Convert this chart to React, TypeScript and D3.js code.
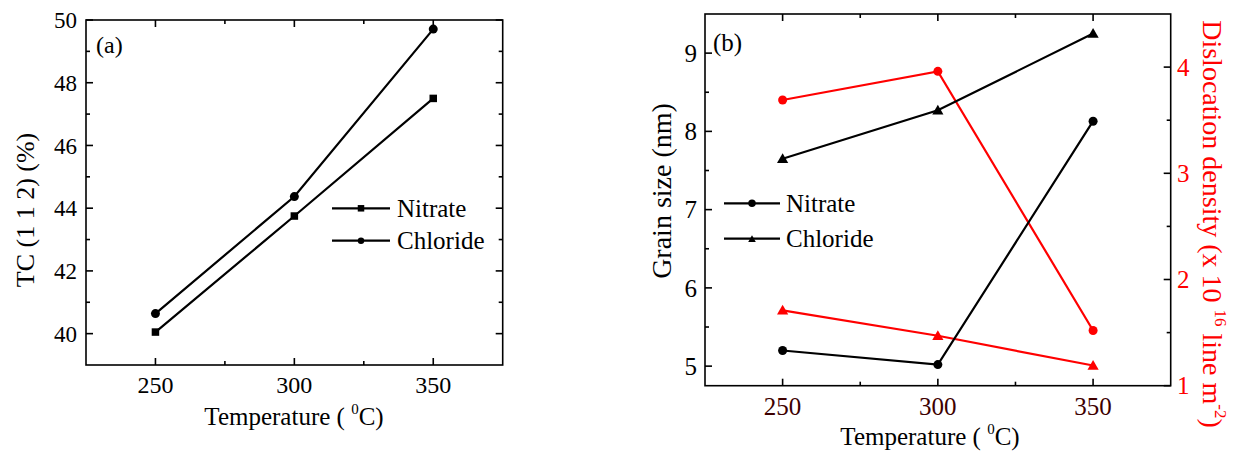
import React from 'react';
import * as d3 from 'd3';

const temps = [250, 300, 350];
const tcNitrate = [40.05, 43.75, 47.5];
const tcChloride = [40.64, 44.37, 49.71];
const grainNitrate = [5.2, 5.02, 8.13];
const grainChloride = [7.65, 8.27, 9.25];
const dislNitrate = [3.69, 3.96, 1.52];
const dislChloride = [1.71, 1.47, 1.19];
const xTicks = [250, 300, 350];
const xMinor = [275, 325];
const tcTicks = [40, 42, 44, 46, 48, 50];
const tcMinor = [41, 43, 45, 47, 49];
const grainTicks = [5, 6, 7, 8, 9];
const grainMinor = [5.5, 6.5, 7.5, 8.5];
const dislTicks = [1, 2, 3, 4];
const dislMinor = [1.5, 2.5, 3.5];
const seriesNames = ['Nitrate', 'Chloride'];

const FONT = "'Liberation Serif', 'DejaVu Serif', serif";
const RED = '#ff0000';

type MarkerKind = 'square' | 'circle' | 'triangle';

function Marker({ kind, x, y, size, color }: { kind: MarkerKind; x: number; y: number; size: number; color: string }) {
  if (kind === 'square') return <rect x={x - size / 2} y={y - size / 2} width={size} height={size} fill={color} />;
  if (kind === 'circle') return <circle cx={x} cy={y} r={size / 2} fill={color} />;
  const p = d3.symbol(d3.symbolTriangle, size * size * 0.45)();
  return <path d={p || ''} transform={`translate(${x},${y + 1})`} fill={color} />;
}

function Series({ xs, ys, x, y, kind, color, size }: any) {
  const line = d3.line<number>().x((_, i) => x(xs[i])).y((v) => y(v));
  return (
    <g>
      <path d={line(ys) || ''} fill="none" stroke={color} strokeWidth={2.2} />
      {ys.map((v: number, i: number) => (
        <Marker key={i} kind={kind} x={x(xs[i])} y={y(v)} size={size} color={color} />
      ))}
    </g>
  );
}

function Frame({ x, y, yMajor, yMinor, yRight, yRightMajor, yRightMinor }: any) {
  const [x0, x1] = x.range();
  const [y0, y1] = y.range();
  const M = 7, m = 4;
  const ticks: any[] = [];
  xTicks.forEach((t, i) => {
    ticks.push(<line key={'xb' + i} x1={x(t)} x2={x(t)} y1={y0} y2={y0 - M} />);
    ticks.push(<line key={'xt' + i} x1={x(t)} x2={x(t)} y1={y1} y2={y1 + M} />);
  });
  xMinor.forEach((t, i) => {
    ticks.push(<line key={'xbm' + i} x1={x(t)} x2={x(t)} y1={y0} y2={y0 - m} />);
    ticks.push(<line key={'xtm' + i} x1={x(t)} x2={x(t)} y1={y1} y2={y1 + m} />);
  });
  yMajor.forEach((t: number, i: number) => {
    ticks.push(<line key={'yl' + i} x1={x0} x2={x0 + M} y1={y(t)} y2={y(t)} />);
    if (!yRight) ticks.push(<line key={'yr' + i} x1={x1} x2={x1 - M} y1={y(t)} y2={y(t)} />);
  });
  yMinor.forEach((t: number, i: number) => {
    ticks.push(<line key={'ylm' + i} x1={x0} x2={x0 + m} y1={y(t)} y2={y(t)} />);
    if (!yRight) ticks.push(<line key={'yrm' + i} x1={x1} x2={x1 - m} y1={y(t)} y2={y(t)} />);
  });
  if (yRight) {
    yRightMajor.forEach((t: number, i: number) => {
      ticks.push(<line key={'rr' + i} x1={x1} x2={x1 - M} y1={yRight(t)} y2={yRight(t)} />);
    });
    yRightMinor.forEach((t: number, i: number) => {
      ticks.push(<line key={'rrm' + i} x1={x1} x2={x1 - m} y1={yRight(t)} y2={yRight(t)} />);
    });
  }
  return (
    <g stroke="#000" strokeWidth={1.6} fill="none">
      <rect x={x0} y={y1} width={x1 - x0} height={y0 - y1} />
      {ticks}
    </g>
  );
}

function Legend({ x0, x1, y0, dy, textX, kinds, size, fontSize }: any) {
  return (
    <g>
      {seriesNames.map((n, i) => (
        <g key={n}>
          <line x1={x0} x2={x1} y1={y0 + i * dy} y2={y0 + i * dy} stroke="#000" strokeWidth={2.2} />
          <Marker kind={kinds[i]} x={(x0 + x1) / 2} y={y0 + i * dy} size={size} color="#000" />
          <text x={textX} y={y0 + i * dy} dy="0.35em" fontSize={fontSize}>{n}</text>
        </g>
      ))}
    </g>
  );
}

export default function App() {
  // Panel (a)
  const xa = d3.scaleLinear().domain([225, 375]).range([86, 502.7]);
  const ya = d3.scaleLinear().domain([39, 50]).range([365, 20]);
  // Panel (b)
  const xb = d3.scaleLinear().domain([225, 375]).range([705, 1170.7]);
  const yb = d3.scaleLinear().domain([4.75, 9.5]).range([385.7, 14]);
  const yr = d3.scaleLinear().domain([1, 4.5]).range([385.7, 14]);

  return (
    <svg width={1234} height={455} style={{ position: 'absolute', left: 0, top: 0, background: '#fff', fontFamily: FONT }}>
      <rect x={0} y={0} width={1234} height={455} fill="#fff" />
      {/* Panel (a) */}
      <Frame x={xa} y={ya} yMajor={tcTicks} yMinor={tcMinor} />
      {xTicks.map((t) => (
        <text key={t} x={xa(t)} y={393} textAnchor="middle" fontSize={24}>{t}</text>
      ))}
      {tcTicks.map((t) => (
        <text key={t} x={77} y={ya(t)} dy="0.35em" textAnchor="end" fontSize={23}>{t}</text>
      ))}
      <text x={294} y={425} textAnchor="middle" fontSize={25}>
        Temperature ( <tspan fontSize={15} dy={-11}>0</tspan><tspan dy={11}>C)</tspan>
      </text>
      <text transform="translate(34,210) rotate(-90)" textAnchor="middle" fontSize={26}>TC (1 1 2) (%)</text>
      <text x={96} y={53} fontSize={24}>(a)</text>
      <Series xs={temps} ys={tcNitrate} x={xa} y={ya} kind="square" color="#000" size={7.5} />
      <Series xs={temps} ys={tcChloride} x={xa} y={ya} kind="circle" color="#000" size={9} />
      <Legend x0={332} x1={390} y0={208.3} dy={32.4} textX={397} kinds={['square', 'circle']} size={6.5} fontSize={25} />

      {/* Panel (b) */}
      <Frame x={xb} y={yb} yMajor={grainTicks} yMinor={grainMinor} yRight={yr} yRightMajor={dislTicks} yRightMinor={dislMinor} />
      {xTicks.map((t) => (
        <text key={t} x={xb(t)} y={415} textAnchor="middle" fontSize={25} fill="#3d0000">{t}</text>
      ))}
      {grainTicks.map((t) => (
        <text key={t} x={697} y={yb(t)} dy="0.35em" textAnchor="end" fontSize={25}>{t}</text>
      ))}
      {dislTicks.map((t) => (
        <text key={t} x={1177} y={yr(t)} dy="0.35em" textAnchor="start" fontSize={25} fill={RED}>{t}</text>
      ))}
      <text x={930} y={445} textAnchor="middle" fontSize={25}>
        Temperature ( <tspan fontSize={15} dy={-11}>0</tspan><tspan dy={11}>C)</tspan>
      </text>
      <text transform="translate(671,191) rotate(-90)" textAnchor="middle" fontSize={28}>Grain size (nm)</text>
      <text transform="translate(1203,224) rotate(90)" textAnchor="middle" fontSize={28} fill={RED}>
        Dislocation density (x 10 <tspan fontSize={17} dy={-12}>16</tspan><tspan dy={12}> line m</tspan><tspan fontSize={17} dy={-12}>-2</tspan><tspan dy={12}>)</tspan>
      </text>
      <text x={713} y={51} fontSize={25}>(b)</text>
      <Series xs={temps} ys={dislNitrate} x={xb} y={yr} kind="circle" color={RED} size={9} />
      <Series xs={temps} ys={dislChloride} x={xb} y={yr} kind="triangle" color={RED} size={11} />
      <Series xs={temps} ys={grainNitrate} x={xb} y={yb} kind="circle" color="#000" size={9} />
      <Series xs={temps} ys={grainChloride} x={xb} y={yb} kind="triangle" color="#000" size={11} />
      <Legend x0={724} x1={780} y0={203.3} dy={35.4} textX={786} kinds={['circle', 'triangle']} size={7.5} fontSize={25} />
    </svg>
  );
}
